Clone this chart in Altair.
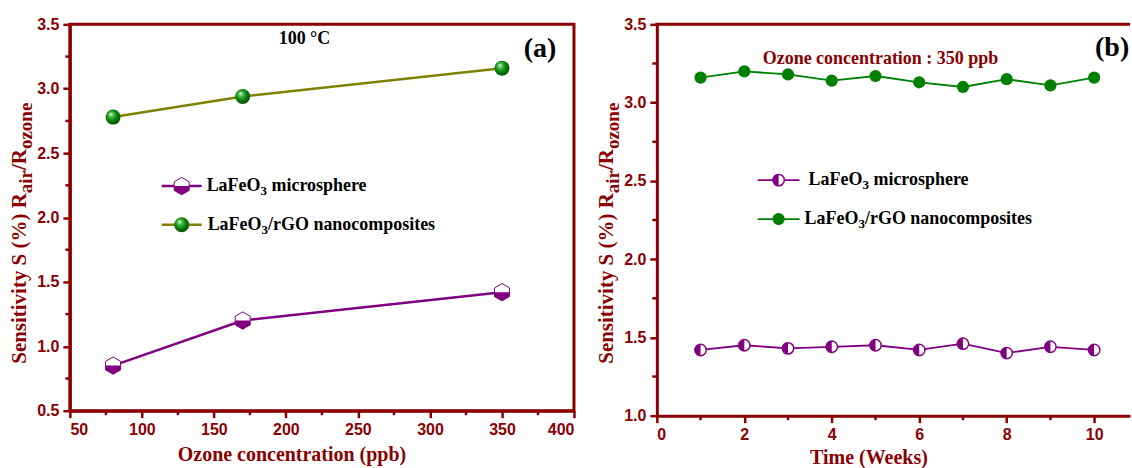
import altair as alt
import pandas as pd

# ---------------- data ----------------
conc_ppb = [80, 170, 350]
micro_sens_conc = [0.85, 1.20, 1.42]
rgo_sens_conc = [2.78, 2.94, 3.16]

weeks = [1, 2, 3, 4, 5, 6, 7, 8, 9, 10]
micro_sens_week = [1.42, 1.45, 1.43, 1.44, 1.45, 1.42, 1.46, 1.40, 1.44, 1.42]
rgo_sens_week = [3.16, 3.20, 3.18, 3.14, 3.17, 3.13, 3.10, 3.15, 3.11, 3.16]

xa_major = [50, 100, 150, 200, 250, 300, 350, 400]
xa_minor = [75, 125, 175, 225, 275, 325, 375]
ya_major = [0.5, 1.0, 1.5, 2.0, 2.5, 3.0, 3.5]
ya_minor = [0.75, 1.25, 1.75, 2.25, 2.75, 3.25]
xb_major = [0, 2, 4, 6, 8, 10]
xb_minor = [1, 3, 5, 7, 9]
yb_major = [1.0, 1.5, 2.0, 2.5, 3.0, 3.5]
yb_minor = [1.25, 1.75, 2.25, 2.75, 3.25]

xa_title = "Ozone concentration (ppb)"
xb_title = "Time (Weeks)"
y_title_parts = [("Sensitivity S (%) R", "main"), ("air", "sub"), ("/R", "main"), ("ozone", "sub")]
legend_micro = [("LaFeO", "main"), ("3", "sub"), (" microsphere", "main")]
legend_rgo = [("LaFeO", "main"), ("3", "sub"), ("/rGO nanocomposites", "main")]
note_a = "100 °C"
note_b = "Ozone concentration : 350 ppb"
tag_a = "(a)"
tag_b = "(b)"

# ---------------- style ----------------
DARKRED = "#8B0000"
PURPLE = "#800080"
OLIVE = "#808000"
GREEN = "#008000"
SERIF = "Liberation Serif"
SANS = "Liberation Sans"

HEX = "M0,-1L0.866,-0.5L0.866,0.5L0,1L-0.866,0.5L-0.866,-0.5Z"
HEX_LOW = "M-0.866,0L0.866,0L0.866,0.5L0,1L-0.866,0.5Z"
HALF_LEFT = "M0,-1A1,1,0,0,0,0,1Z"

SPHERE = alt.RadialGradient(
    gradient="radial",
    stops=[
        alt.GradientStop(color="#ffffff", offset=0),
        alt.GradientStop(color="#4cc04c", offset=0.25),
        alt.GradientStop(color="#0b820b", offset=0.6),
        alt.GradientStop(color="#034a03", offset=1),
    ],
    x1=0.35, y1=0.3, r1=0, x2=0.45, y2=0.45, r2=0.6,
)

# Times/Liberation Serif Bold advance widths (per 1000 em)
TB = {" ": 250, "(": 333, ")": 333, "%": 1000, "/": 278, ":": 333, "°": 400,
      "C": 722, "F": 611, "G": 778, "L": 667, "O": 778, "R": 722, "S": 556, "T": 667, "W": 1000,
      "a": 500, "b": 556, "c": 444, "e": 444, "h": 556, "i": 278, "k": 556, "m": 833, "n": 556,
      "o": 500, "p": 556, "r": 444, "s": 389, "t": 333, "v": 500, "y": 500, "z": 444}


def tw(s, size):
    return sum(TB.get(c, 500) for c in s) * size / 1000.0


def rich_h(parts, x0, y0, main, sub, shift):
    rows, x = [], x0
    for t, kind in parts:
        size = main if kind == "main" else sub
        lead = len(t) - len(t.lstrip(" "))
        x += tw(" " * lead, size)
        t2 = t.strip(" ")
        rows.append({"t": t2, "px": x, "py": y0 + (shift if kind == "sub" else 0), "fs": size})
        x += tw(t2, size)
    return pd.DataFrame(rows)


def rich_v(parts, x_base, y0, main, sub, shift):
    rows, y = [], y0
    for t, kind in parts:
        size = main if kind == "main" else sub
        rows.append({"t": t, "px": x_base + (shift if kind == "sub" else 0), "py": y, "fs": size})
        y -= tw(t, size)
    return pd.DataFrame(rows)


def text_layer(df, color="black", angle=None, baseline="middle"):
    kw = dict(align="left", baseline=baseline, font=SERIF, fontWeight="bold", color=color)
    if angle is not None:
        kw["angle"] = angle
    return alt.Chart(df).mark_text(**kw).encode(
        x=alt.X("px:Q", scale=None), y=alt.Y("py:Q", scale=None),
        text="t:N", size=alt.Size("fs:Q", scale=None))


AX = dict(grid=False, domainColor=DARKRED, domainWidth=3, tickColor=DARKRED, tickWidth=2.5,
          tickSize=7, labelColor=DARKRED, labelFont=SANS, labelFontWeight="bold",
          labelFontSize=16, titleColor=DARKRED, titleFont=SERIF, titleFontWeight="bold",
          titleFontSize=20)


def major_axis(values, fmt, title=None, title_x=None, label_pad=4, title_pad=6):
    kw = dict(AX)
    kw.update(values=values, format=fmt, labelPadding=label_pad)
    if title is not None:
        kw.update(title=title, titlePadding=title_pad)
        if title_x is not None:
            kw["titleX"] = title_x
    else:
        kw["title"] = None
    return alt.Axis(**kw)


def minor_x_ticks(values, scale, h):
    df = pd.DataFrame({"v": values})
    return alt.Chart(df).mark_rule(color=DARKRED, strokeWidth=2.5).encode(
        x=alt.X("v:Q", scale=scale, axis=None), y=alt.value(h), y2=alt.value(h + 4.5))


def minor_y_ticks(values, scale):
    df = pd.DataFrame({"v": values})
    return alt.Chart(df).mark_rule(color=DARKRED, strokeWidth=2.5).encode(
        y=alt.Y("v:Q", scale=scale, axis=None), x=alt.value(0), x2=alt.value(-4.5))


ONE = pd.DataFrame({"k": [0]})


def legend_line(x1, x2, y, color, width):
    return alt.Chart(ONE).mark_rule(color=color, strokeWidth=width).encode(
        x=alt.value(x1), x2=alt.value(x2), y=alt.value(y))


def note(text, x, y, size, color="black", align="center"):
    return alt.Chart(ONE).mark_text(text=text, font=SERIF, fontWeight="bold", fontSize=size,
                                    color=color, align=align, baseline="middle").encode(
        x=alt.value(x), y=alt.value(y))


# ---------------- panel (a) ----------------
W_A, H_A = 505, 387
xs_a = alt.Scale(domain=[50, 400], nice=False, zero=False)
ys_a = alt.Scale(domain=[0.5, 3.5], nice=False, zero=False)
df_a_micro = pd.DataFrame({"c": conc_ppb, "s": micro_sens_conc})
df_a_rgo = pd.DataFrame({"c": conc_ppb, "s": rgo_sens_conc})

a_line_micro = alt.Chart(df_a_micro).mark_line(color=PURPLE, strokeWidth=2.5).encode(
    x=alt.X("c:Q", scale=xs_a, axis=major_axis(xa_major, "d", xa_title, 222, 4, 7)),
    y=alt.Y("s:Q", scale=ys_a, axis=major_axis(ya_major, ".1f")))
a_line_rgo = alt.Chart(df_a_rgo).mark_line(color=OLIVE, strokeWidth=2.5).encode(
    x=alt.X("c:Q", scale=xs_a, axis=None), y=alt.Y("s:Q", scale=ys_a, axis=None))
a_hex = alt.Chart(df_a_micro).mark_point(shape=HEX, filled=True, fill="white", stroke=PURPLE,
                                         strokeWidth=1, size=300, opacity=1).encode(
    x=alt.X("c:Q", scale=xs_a, axis=None), y=alt.Y("s:Q", scale=ys_a, axis=None))
a_hex_low = alt.Chart(df_a_micro).mark_point(shape=HEX_LOW, filled=True, fill=PURPLE,
                                             strokeWidth=0, size=300, opacity=1).encode(
    x=alt.X("c:Q", scale=xs_a, axis=None), y=alt.Y("s:Q", scale=ys_a, axis=None))
a_sphere = alt.Chart(df_a_rgo).mark_point(shape="circle", filled=True, fill=SPHERE,
                                          strokeWidth=0, size=225, opacity=1).encode(
    x=alt.X("c:Q", scale=xs_a, axis=None), y=alt.Y("s:Q", scale=ys_a, axis=None))

leg_a_y1, leg_a_y2 = 162, 200.7
a_leg = [
    legend_line(92, 132, leg_a_y1, PURPLE, 2.5),
    alt.Chart(ONE).mark_point(shape=HEX, filled=True, fill="white", stroke=PURPLE, strokeWidth=1,
                              size=300, opacity=1).encode(x=alt.value(112), y=alt.value(leg_a_y1)),
    alt.Chart(ONE).mark_point(shape=HEX_LOW, filled=True, fill=PURPLE, strokeWidth=0,
                              size=300, opacity=1).encode(x=alt.value(112), y=alt.value(leg_a_y1)),
    legend_line(92, 132, leg_a_y2, OLIVE, 2.5),
    alt.Chart(ONE).mark_point(shape="circle", filled=True, fill=SPHERE, strokeWidth=0,
                              size=225, opacity=1).encode(x=alt.value(112), y=alt.value(leg_a_y2)),
    text_layer(rich_h(legend_micro, 137, leg_a_y1, 18, 13, 5)),
    text_layer(rich_h(legend_rgo, 138, leg_a_y2, 18, 13, 5)),
]
a_ytitle = text_layer(rich_v(y_title_parts, -44, 340, 21, 19, 6), color=DARKRED, angle=270,
                      baseline="alphabetic")

panel_a = alt.layer(
    a_line_micro, a_line_rgo, minor_x_ticks(xa_minor, xs_a, H_A), minor_y_ticks(ya_minor, ys_a),
    a_hex, a_hex_low, a_sphere, *a_leg, a_ytitle,
    note(note_a, 235, 15, 18), note(tag_a, 471, 25, 28),
).resolve_axis(x="independent", y="independent").properties(
    width=W_A, height=H_A, view=alt.ViewBackground(stroke=DARKRED, strokeWidth=3))

# ---------------- panel (b) ----------------
W_B, H_B = 474, 392
xs_b = alt.Scale(domain=[0, 10.82], nice=False, zero=False)
ys_b = alt.Scale(domain=[1.0, 3.5], nice=False, zero=False)
df_b_micro = pd.DataFrame({"w": weeks, "s": micro_sens_week})
df_b_rgo = pd.DataFrame({"w": weeks, "s": rgo_sens_week})

b_line_micro = alt.Chart(df_b_micro).mark_line(color=PURPLE, strokeWidth=1.8).encode(
    x=alt.X("w:Q", scale=xs_b, axis=major_axis(xb_major, "d", xb_title, 212, 4, 5)),
    y=alt.Y("s:Q", scale=ys_b, axis=major_axis(yb_major, ".1f")))
b_line_rgo = alt.Chart(df_b_rgo).mark_line(color=GREEN, strokeWidth=1.8).encode(
    x=alt.X("w:Q", scale=xs_b, axis=None), y=alt.Y("s:Q", scale=ys_b, axis=None))
b_circ = alt.Chart(df_b_micro).mark_point(shape="circle", filled=True, fill="white", stroke=PURPLE,
                                          strokeWidth=1.5, size=130, opacity=1).encode(
    x=alt.X("w:Q", scale=xs_b, axis=None), y=alt.Y("s:Q", scale=ys_b, axis=None))
b_half = alt.Chart(df_b_micro).mark_point(shape=HALF_LEFT, filled=True, fill=PURPLE,
                                          strokeWidth=0, size=130, opacity=1).encode(
    x=alt.X("w:Q", scale=xs_b, axis=None), y=alt.Y("s:Q", scale=ys_b, axis=None))
b_dot = alt.Chart(df_b_rgo).mark_point(shape="circle", filled=True, fill=GREEN, strokeWidth=0,
                                       size=150, opacity=1).encode(
    x=alt.X("w:Q", scale=xs_b, axis=None), y=alt.Y("s:Q", scale=ys_b, axis=None))
b_top = alt.Chart(ONE).mark_rule(color=DARKRED, strokeWidth=3).encode(
    x=alt.value(-1.5), x2=alt.value(W_B), y=alt.value(0))

leg_b_y1, leg_b_y2 = 156, 195
b_leg = [
    legend_line(101, 143, leg_b_y1, PURPLE, 1.8),
    alt.Chart(ONE).mark_point(shape="circle", filled=True, fill="white", stroke=PURPLE,
                              strokeWidth=1.5, size=130, opacity=1).encode(
        x=alt.value(122), y=alt.value(leg_b_y1)),
    alt.Chart(ONE).mark_point(shape=HALF_LEFT, filled=True, fill=PURPLE, strokeWidth=0,
                              size=130, opacity=1).encode(x=alt.value(122), y=alt.value(leg_b_y1)),
    legend_line(101, 143, leg_b_y2, GREEN, 1.8),
    alt.Chart(ONE).mark_point(shape="circle", filled=True, fill=GREEN, strokeWidth=0,
                              size=150, opacity=1).encode(x=alt.value(122), y=alt.value(leg_b_y2)),
    text_layer(rich_h(legend_micro, 152, leg_b_y1, 18, 13, 5)),
    text_layer(rich_h(legend_rgo, 148, leg_b_y2, 18, 13, 5)),
]
b_ytitle = text_layer(rich_v(y_title_parts, -44, 340, 21, 19, 6), color=DARKRED, angle=270,
                      baseline="alphabetic")

panel_b = alt.layer(
    b_line_micro, b_line_rgo, minor_x_ticks(xb_minor, xs_b, H_B), minor_y_ticks(yb_minor, ys_b),
    b_top, b_circ, b_half, b_dot, *b_leg, b_ytitle,
    note(note_b, 224, 35, 18, color=DARKRED), note(tag_b, 439, 24, 28, align="left"),
).resolve_axis(x="independent", y="independent").properties(
    width=W_B, height=H_B, view=alt.ViewBackground(stroke="transparent"))

chart = alt.hconcat(panel_a, panel_b, spacing=83, bounds="flush").properties(
    padding={"left": 7, "top": 14, "right": 0, "bottom": 0},
    background="white",
)

chart.save("out.html", embed_options={"renderer": "svg", "actions": False})
